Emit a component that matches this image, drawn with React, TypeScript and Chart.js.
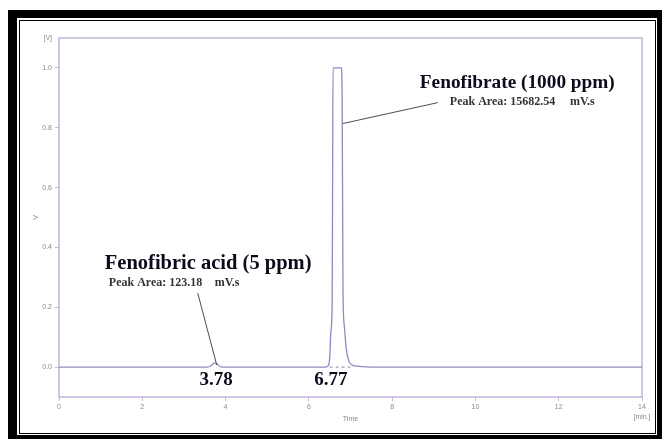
import React, { useEffect, useRef } from "react";
import { Chart, registerables } from "chart.js";

Chart.register(...registerables);

// Chromatogram trace (time in minutes, signal in V)
const timeMin = [
  0, 3.55, 3.62, 3.68, 3.74, 3.8, 3.86, 3.92,
  6.4, 6.46, 6.5, 6.53, 6.56, 6.57, 6.58, 6.78, 6.8, 6.82, 6.85, 6.9, 6.96, 7.03, 7.15, 7.38, 7.45,
  14,
];
const signalV = [
  0, 0, 0.002, 0.008, 0.014, 0.01, 0.003, 0,
  0, 0.004, 0.03, 0.12, 0.22, 0.6, 1.0, 1.0, 0.89, 0.25, 0.14, 0.06, 0.02, 0.008, 0.003, 0.001, 0,
  0,
];
// Integration baseline under the main peak
const integrationT = [6.5, 7.0];
const integrationV = [0, 0];

const xTickValues = [0, 2, 4, 6, 8, 10, 12, 14];
const yTickValues = [0, 0.2, 0.4, 0.6, 0.8, 1.0, 1.1];
const yUnitLabel = "[V]";
const xUnitLabel = "[min.]";
const xTitle = "Time";
const yTitle = "V";

const peakNames = ["Fenofibric acid (5 ppm)", "Fenofibrate (1000 ppm)"];
const peakAreas = ["123.18", "15682.54"];
const peakTimes = ["3.78", "6.77"];

const FRAME = "#c6b7da";
const TRACE = "#9a85c4";

const annotationPlugin = {
  id: "annotations",
  beforeDatasetsDraw(chart: any) {
    const { ctx, chartArea } = chart;
    ctx.save();
    ctx.strokeStyle = FRAME;
    ctx.lineWidth = 1.6;
    ctx.strokeRect(
      chartArea.left,
      chartArea.top,
      chartArea.right - chartArea.left,
      chartArea.bottom - chartArea.top
    );
    ctx.restore();
  },
  afterDatasetsDraw(chart: any) {
    const { ctx, chartArea } = chart;
    const x = chart.scales.x;
    const y = chart.scales.y;
    const px = (t: number) => x.getPixelForValue(t);
    const py = (v: number) => y.getPixelForValue(v);
    ctx.save();
    // leader lines
    ctx.strokeStyle = "#4d4d4d";
    ctx.lineWidth = 1;
    const seg = (t1: number, v1: number, t2: number, v2: number) => {
      ctx.beginPath();
      ctx.moveTo(px(t1), py(v1));
      ctx.lineTo(px(t2), py(v2));
      ctx.stroke();
    };
    seg(9.097, 0.884, 6.815, 0.814);
    seg(3.332, 0.247, 3.788, 0.007);

    // peak names
    ctx.fillStyle = "#0b0b1c";
    ctx.textAlign = "left";
    ctx.textBaseline = "alphabetic";
    ctx.font = 'bold 19.3px "Liberation Serif", "Times New Roman", serif';
    ctx.fillText(peakNames[1], px(8.665), py(0.934));
    ctx.font = 'bold 20.5px "Liberation Serif", "Times New Roman", serif';
    ctx.fillText(peakNames[0], px(1.1), py(0.329));

    // peak areas
    ctx.fillStyle = "#333333";
    ctx.font = 'bold 12px "Liberation Serif", "Times New Roman", serif';
    ctx.fillText("Peak Area: " + peakAreas[1], px(9.385), py(0.876));
    ctx.fillText("mV.s", px(12.27), py(0.876));
    ctx.fillText("Peak Area: " + peakAreas[0], px(1.196), py(0.271));
    ctx.fillText("mV.s", px(3.74), py(0.271));

    // retention times
    ctx.fillStyle = "#0b0b1c";
    ctx.textAlign = "center";
    ctx.font = 'bold 19px "Liberation Serif", "Times New Roman", serif';
    ctx.fillText(peakTimes[0], px(3.776), py(-0.06));
    ctx.fillText(peakTimes[1], px(6.527), py(-0.06));

    // x unit
    ctx.fillStyle = "#8a8a8a";
    ctx.font = '7px "Liberation Sans", Arial, sans-serif';
    ctx.textBaseline = "middle";
    ctx.fillText(xUnitLabel, px(14), chartArea.bottom + 20);
    ctx.restore();
  },
};

export default function App() {
  const canvasRef = useRef<HTMLCanvasElement | null>(null);

  useEffect(() => {
    const canvas = canvasRef.current;
    if (!canvas) return;
    const tickFont = { family: '"Liberation Sans", Arial, sans-serif', size: 7 };
    const chart = new Chart(canvas, {
      type: "line",
      data: {
        datasets: [
          {
            data: timeMin.map((t, i) => ({ x: t, y: signalV[i] })),
            borderColor: TRACE,
            borderWidth: 1.3,
            pointRadius: 0,
            fill: false,
            cubicInterpolationMode: "monotone",
          },
          {
            data: integrationT.map((t, i) => ({ x: t, y: integrationV[i] })),
            borderColor: "#8f80ab",
            borderWidth: 1,
            borderDash: [3, 3],
            pointRadius: 0,
            fill: false,
          },
        ],
      },
      options: {
        responsive: false,
        animation: false,
        devicePixelRatio: 1,
        layout: { padding: { left: 0, top: 17, right: 13, bottom: 0 } },
        plugins: {
          legend: { display: false },
          tooltip: { enabled: false },
        },
        scales: {
          x: {
            type: "linear",
            min: 0,
            max: 14,
            afterBuildTicks: (scale: any) => {
              scale.ticks = xTickValues.map((v) => ({ value: v }));
            },
            afterFit: (scale: any) => {
              scale.height = 36;
            },
            ticks: {
              color: "#8a8a8a",
              font: tickFont,
              padding: 2,
              maxRotation: 0,
              autoSkip: false,
              callback: (v: any) => String(v),
            },
            grid: {
              display: true,
              drawOnChartArea: false,
              drawTicks: true,
              tickLength: 4,
              tickColor: FRAME,
              tickWidth: 1,
            },
            border: { display: false },
            title: {
              display: true,
              text: xTitle,
              color: "#8a8a8a",
              font: tickFont,
              padding: { top: 0, bottom: 10 },
            },
          },
          y: {
            type: "linear",
            min: -0.1,
            max: 1.1,
            afterBuildTicks: (scale: any) => {
              scale.ticks = yTickValues.map((v) => ({ value: v }));
            },
            afterFit: (scale: any) => {
              scale.width = 39;
            },
            ticks: {
              color: "#8a8a8a",
              font: tickFont,
              padding: 3,
              autoSkip: false,
              callback: (v: any) => (Math.abs(v - 1.1) < 1e-9 ? yUnitLabel : Number(v).toFixed(1)),
            },
            grid: {
              display: true,
              drawOnChartArea: false,
              drawTicks: true,
              tickLength: 4,
              tickColor: (ctx: any) =>
                ctx.tick && Math.abs(ctx.tick.value - 1.1) < 1e-9 ? "rgba(0,0,0,0)" : FRAME,
              tickWidth: 1,
            },
            border: { display: false },
            title: {
              display: true,
              text: yTitle,
              color: "#8a8a8a",
              font: tickFont,
              padding: { top: 12, bottom: 0 },
            },
          },
        },
      },
      plugins: [annotationPlugin],
    } as any);
    return () => chart.destroy();
  }, []);

  return (
    <div
      style={{
        position: "fixed",
        left: 8,
        top: 10,
        width: 654,
        height: 429,
        boxSizing: "border-box",
        borderStyle: "solid",
        borderColor: "#000",
        borderWidth: "8px 5px 4px 9px",
        background: "#fff",
      }}
    >
      <div
        style={{
          position: "absolute",
          left: 2,
          top: 2,
          width: 637,
          height: 414,
          boxSizing: "border-box",
          border: "1px solid #000",
          background: "#fff",
        }}
      >
        <canvas ref={canvasRef} width={635} height={412} style={{ display: "block", width: 635, height: 412 }} />
      </div>
    </div>
  );
}
